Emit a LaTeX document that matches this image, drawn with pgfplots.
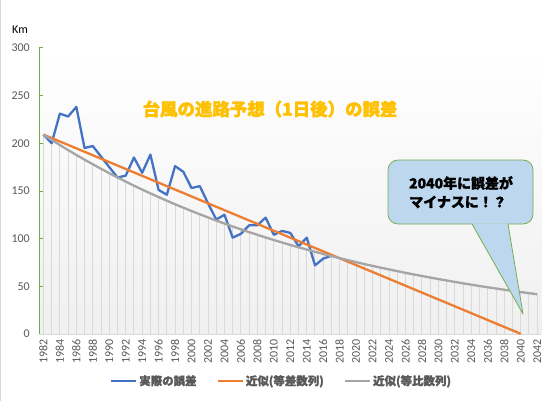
\documentclass[border=0pt]{standalone}
\usepackage{fontspec}
\setmainfont{Carlito}
\newfontfamily\jp{Noto Sans CJK JP}[BoldFeatures={FakeBold=1.6}]
\usepackage{pgfplots}
\usepackage{pgfplotstable}
\pgfplotsset{compat=1.18}
\definecolor{sblue}{HTML}{4472C4}
\definecolor{sorange}{HTML}{ED7D31}
\definecolor{sgray}{HTML}{A5A5A5}
\definecolor{tgray}{HTML}{595959}
\definecolor{xgreen}{HTML}{70AD47}
\definecolor{cblue}{HTML}{BDD7EE}
\definecolor{ttl}{HTML}{FFC000}
\definecolor{dropgray}{HTML}{D9D9D9}

\pgfplotstableread{
year val
1982 209
1983 200
1984 231
1985 228
1986 238
1987 195
1988 197
1989 186
1990 175
1991 164
1992 166
1993 185
1994 169
1995 188
1996 151
1997 146
1998 176
1999 170
2000 153
2001 155
2002 137
2003 120
2004 125
2005 101
2006 105
2007 114
2008 114
2009 122
2010 104
2011 108
2012 106
2013 92
2014 101
2015 72
2016 79
2017 82
}\actual

\pgfplotstableread{
year val
1982 209.0
1983 205.4
1984 201.8
1985 198.2
1986 194.6
1987 191.0
1988 187.4
1989 183.8
1990 180.2
1991 176.6
1992 173.0
1993 169.4
1994 165.8
1995 162.2
1996 158.6
1997 155.0
1998 151.4
1999 147.8
2000 144.2
2001 140.6
2002 137.0
2003 133.4
2004 129.8
2005 126.2
2006 122.6
2007 119.0
2008 115.4
2009 111.8
2010 108.2
2011 104.6
2012 101.0
2013 97.4
2014 93.8
2015 90.2
2016 86.6
2017 83.0
2018 79.4
2019 75.8
2020 72.2
2021 68.6
2022 65.0
2023 61.4
2024 57.8
2025 54.2
2026 50.6
2027 47.0
2028 43.4
2029 39.8
2030 36.2
2031 32.6
2032 29.0
2033 25.4
2034 21.8
2035 18.2
2036 14.6
2037 11.0
2038 7.4
2039 3.8
2040 0.2
}\arith

\pgfplotstableread{
year val
1982 209.0
1983 203.5
1984 198.1
1985 192.8
1986 187.7
1987 182.7
1988 177.9
1989 173.2
1990 168.6
1991 164.1
1992 159.8
1993 155.5
1994 151.4
1995 147.4
1996 143.5
1997 139.7
1998 136.0
1999 132.4
2000 128.9
2001 125.5
2002 122.2
2003 118.9
2004 115.8
2005 112.7
2006 109.7
2007 106.8
2008 104.0
2009 101.2
2010 98.5
2011 95.9
2012 93.4
2013 90.9
2014 88.5
2015 86.2
2016 83.9
2017 81.6
2018 79.5
2019 77.4
2020 75.3
2021 73.3
2022 71.4
2023 69.5
2024 67.7
2025 65.9
2026 64.1
2027 62.4
2028 60.8
2029 59.2
2030 57.6
2031 56.1
2032 54.6
2033 53.1
2034 51.7
2035 50.3
2036 49.0
2037 47.7
2038 46.4
2039 45.2
2040 44.0
2041 42.8
2042 41.7
}\geom

\begin{document}
\begin{tikzpicture}[x=1bp,y=1bp]
\useasboundingbox (0,0) rectangle (557,401);
\fill[white] (0,0) rectangle (557,401);
\draw[dropgray, line width=1bp] (0.5,0) -- (0.5,401);
\begin{axis}[
  at={(39.3bp,67bp)}, anchor=south west,
  scale only axis, width=502bp, height=286.2bp,
  xmin=1981.5, xmax=2042.5, ymin=0, ymax=300,
  axis lines*=left,
  axis background/.style={shade, top color=white, bottom color=black!6},
  x axis line style={draw=dropgray, line width=0.75bp},
  y axis line style={draw=xgreen, line width=0.75bp},
  xtick={1982,1984,...,2042},
  ytick={0,50,...,300},
  scaled x ticks=false,
  /pgf/number format/1000 sep={},
  /pgf/number format/assume math mode=true,
  xtick style={draw=none},
  ytick style={draw=xgreen, line width=0.75bp},
  major tick length=4bp,
  tick align=inside,
  xticklabel style={rotate=90, anchor=east, font=\fontsize{12}{12}\selectfont, text=tgray},
  yticklabel style={font=\fontsize{12}{12}\selectfont, text=tgray},
  xticklabel shift=2bp,
  yticklabel shift=6bp,
  legend columns=3,
  legend image code/.code={\draw[#1] (0bp,0bp) -- (25bp,0bp);},
  legend style={at={(0.4825,-0.164)}, anchor=center, draw=none, fill=none,
    font=\jp\bfseries\fontsize{11.5}{12}\selectfont, text=tgray,
    /tikz/every even column/.append style={column sep=18bp},
    nodes={inner sep=2bp}},
]
\addplot[ycomb, dropgray, line width=1bp, forget plot] table[x=year,y=val]{\geom};
\addplot[sblue, line width=2.3bp, no marks, line join=round] table[x=year,y=val]{\actual};
\addlegendentry{実際の誤差}
\addplot[sorange, line width=2.3bp, no marks, line join=round] table[x=year,y=val]{\arith};
\addlegendentry{近似(等差数列)}
\addplot[sgray, line width=2.3bp, no marks, line join=round] table[x=year,y=val]{\geom};
\addlegendentry{近似(等比数列)}
\end{axis}
% callout
\fill[cblue, rounded corners=10bp] (388,177) rectangle (533,241);
\draw[xgreen, line width=0.75bp, rounded corners=10bp] (388,177) rectangle (533,241);
\fill[cblue] (472,177.7) -- (472,177) -- (523,87) -- (508,177) -- (508,177.7) -- cycle;
\draw[xgreen, line width=0.75bp, line join=round] (472,177) -- (523,87) -- (508,177);
\node[font=\jp\bfseries\fontsize{14}{14}\selectfont] at (461,218) {2040年に誤差が};
\node[font=\jp\bfseries\fontsize{14}{14}\selectfont] at (458,199) {マイナスに！？};
% title
\node[font=\jp\bfseries\fontsize{17.5}{17.5}\selectfont, text=ttl] at (270,292) {台風の進路予想（1日後）の誤差};
% unit
\node[font=\fontsize{12}{12}\selectfont] at (20,371) {Km};
\end{tikzpicture}
\end{document}
